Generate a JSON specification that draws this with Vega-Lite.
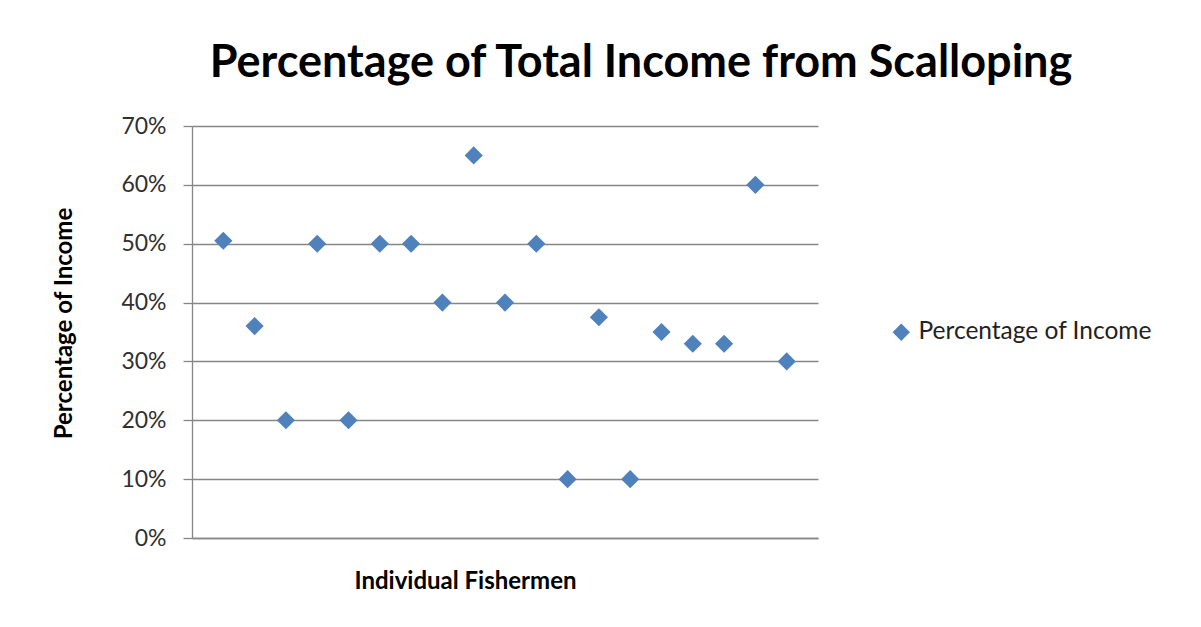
{
  "$schema": "https://vega.github.io/schema/vega-lite/v6.json",
  "width": 626,
  "height": 412,
  "autosize": "none",
  "padding": {"left": 192, "top": 126, "right": 383, "bottom": 89},
  "background": "white",
  "config": {
    "view": {"stroke": null},
    "font": "Lato"
  },
  "title": {
    "text": "Percentage of Total Income from Scalloping",
    "fontSize": 45,
    "font": "Lato",
    "fontWeight": "bold",
    "color": "#000000",
    "anchor": "middle",
    "frame": "group",
    "dx": 136,
    "baseline": "middle",
    "offset": 7
  },
  "data": {
    "values": [
      {"fisherman": 1, "pct": 0.505, "series": "Percentage of Income"},
      {"fisherman": 2, "pct": 0.36, "series": "Percentage of Income"},
      {"fisherman": 3, "pct": 0.20, "series": "Percentage of Income"},
      {"fisherman": 4, "pct": 0.50, "series": "Percentage of Income"},
      {"fisherman": 5, "pct": 0.20, "series": "Percentage of Income"},
      {"fisherman": 6, "pct": 0.50, "series": "Percentage of Income"},
      {"fisherman": 7, "pct": 0.50, "series": "Percentage of Income"},
      {"fisherman": 8, "pct": 0.40, "series": "Percentage of Income"},
      {"fisherman": 9, "pct": 0.65, "series": "Percentage of Income"},
      {"fisherman": 10, "pct": 0.40, "series": "Percentage of Income"},
      {"fisherman": 11, "pct": 0.50, "series": "Percentage of Income"},
      {"fisherman": 12, "pct": 0.10, "series": "Percentage of Income"},
      {"fisherman": 13, "pct": 0.375, "series": "Percentage of Income"},
      {"fisherman": 14, "pct": 0.10, "series": "Percentage of Income"},
      {"fisherman": 15, "pct": 0.35, "series": "Percentage of Income"},
      {"fisherman": 16, "pct": 0.33, "series": "Percentage of Income"},
      {"fisherman": 17, "pct": 0.33, "series": "Percentage of Income"},
      {"fisherman": 18, "pct": 0.60, "series": "Percentage of Income"},
      {"fisherman": 19, "pct": 0.30, "series": "Percentage of Income"}
    ]
  },
  "mark": {"type": "point", "shape": "diamond", "filled": true, "size": 330, "opacity": 1},
  "encoding": {
    "x": {
      "field": "fisherman",
      "type": "quantitative",
      "scale": {"domain": [0, 20], "nice": false, "zero": false},
      "axis": {
        "title": "Individual Fishermen",
        "titleFont": "Lato",
        "titleFontSize": 24,
        "titleFontWeight": "bold",
        "titleColor": "#000000",
        "titleX": 273,
        "titleY": 43,
        "titleBaseline": "middle",
        "labels": false,
        "ticks": false,
        "grid": false,
        "domainColor": "#868686",
        "domainWidth": 1.3
      }
    },
    "y": {
      "field": "pct",
      "type": "quantitative",
      "scale": {"domain": [0, 0.7], "nice": false},
      "axis": {
        "title": "Percentage of Income",
        "titleFont": "Lato",
        "titleFontSize": 24,
        "titleFontWeight": "bold",
        "titleColor": "#000000",
        "titleAngle": -90,
        "titleX": -128,
        "titleY": 197,
        "titleBaseline": "middle",
        "titleAlign": "center",
        "format": ".0%",
        "values": [0, 0.1, 0.2, 0.3, 0.4, 0.5, 0.6, 0.7],
        "labelFont": "Lato",
        "labelFontSize": 23,
        "labelColor": "#303030",
        "labelPadding": 17,
        "tickSize": 9,
        "tickColor": "#868686",
        "tickWidth": 1.3,
        "domainColor": "#868686",
        "domainWidth": 1.3,
        "grid": true,
        "gridColor": "#868686",
        "gridWidth": 1.3
      }
    },
    "color": {
      "field": "series",
      "type": "nominal",
      "scale": {"range": ["#4F81BD"]},
      "legend": {
        "title": null,
        "orient": "none",
        "legendX": 697,
        "legendY": 194,
        "labelFont": "Lato",
        "labelFontSize": 24.5,
        "labelLimit": 400,
        "labelColor": "#222222",
        "symbolType": "diamond",
        "symbolSize": 300,
        "symbolStrokeWidth": 0,
        "labelOffset": 5
      }
    }
  }
}
